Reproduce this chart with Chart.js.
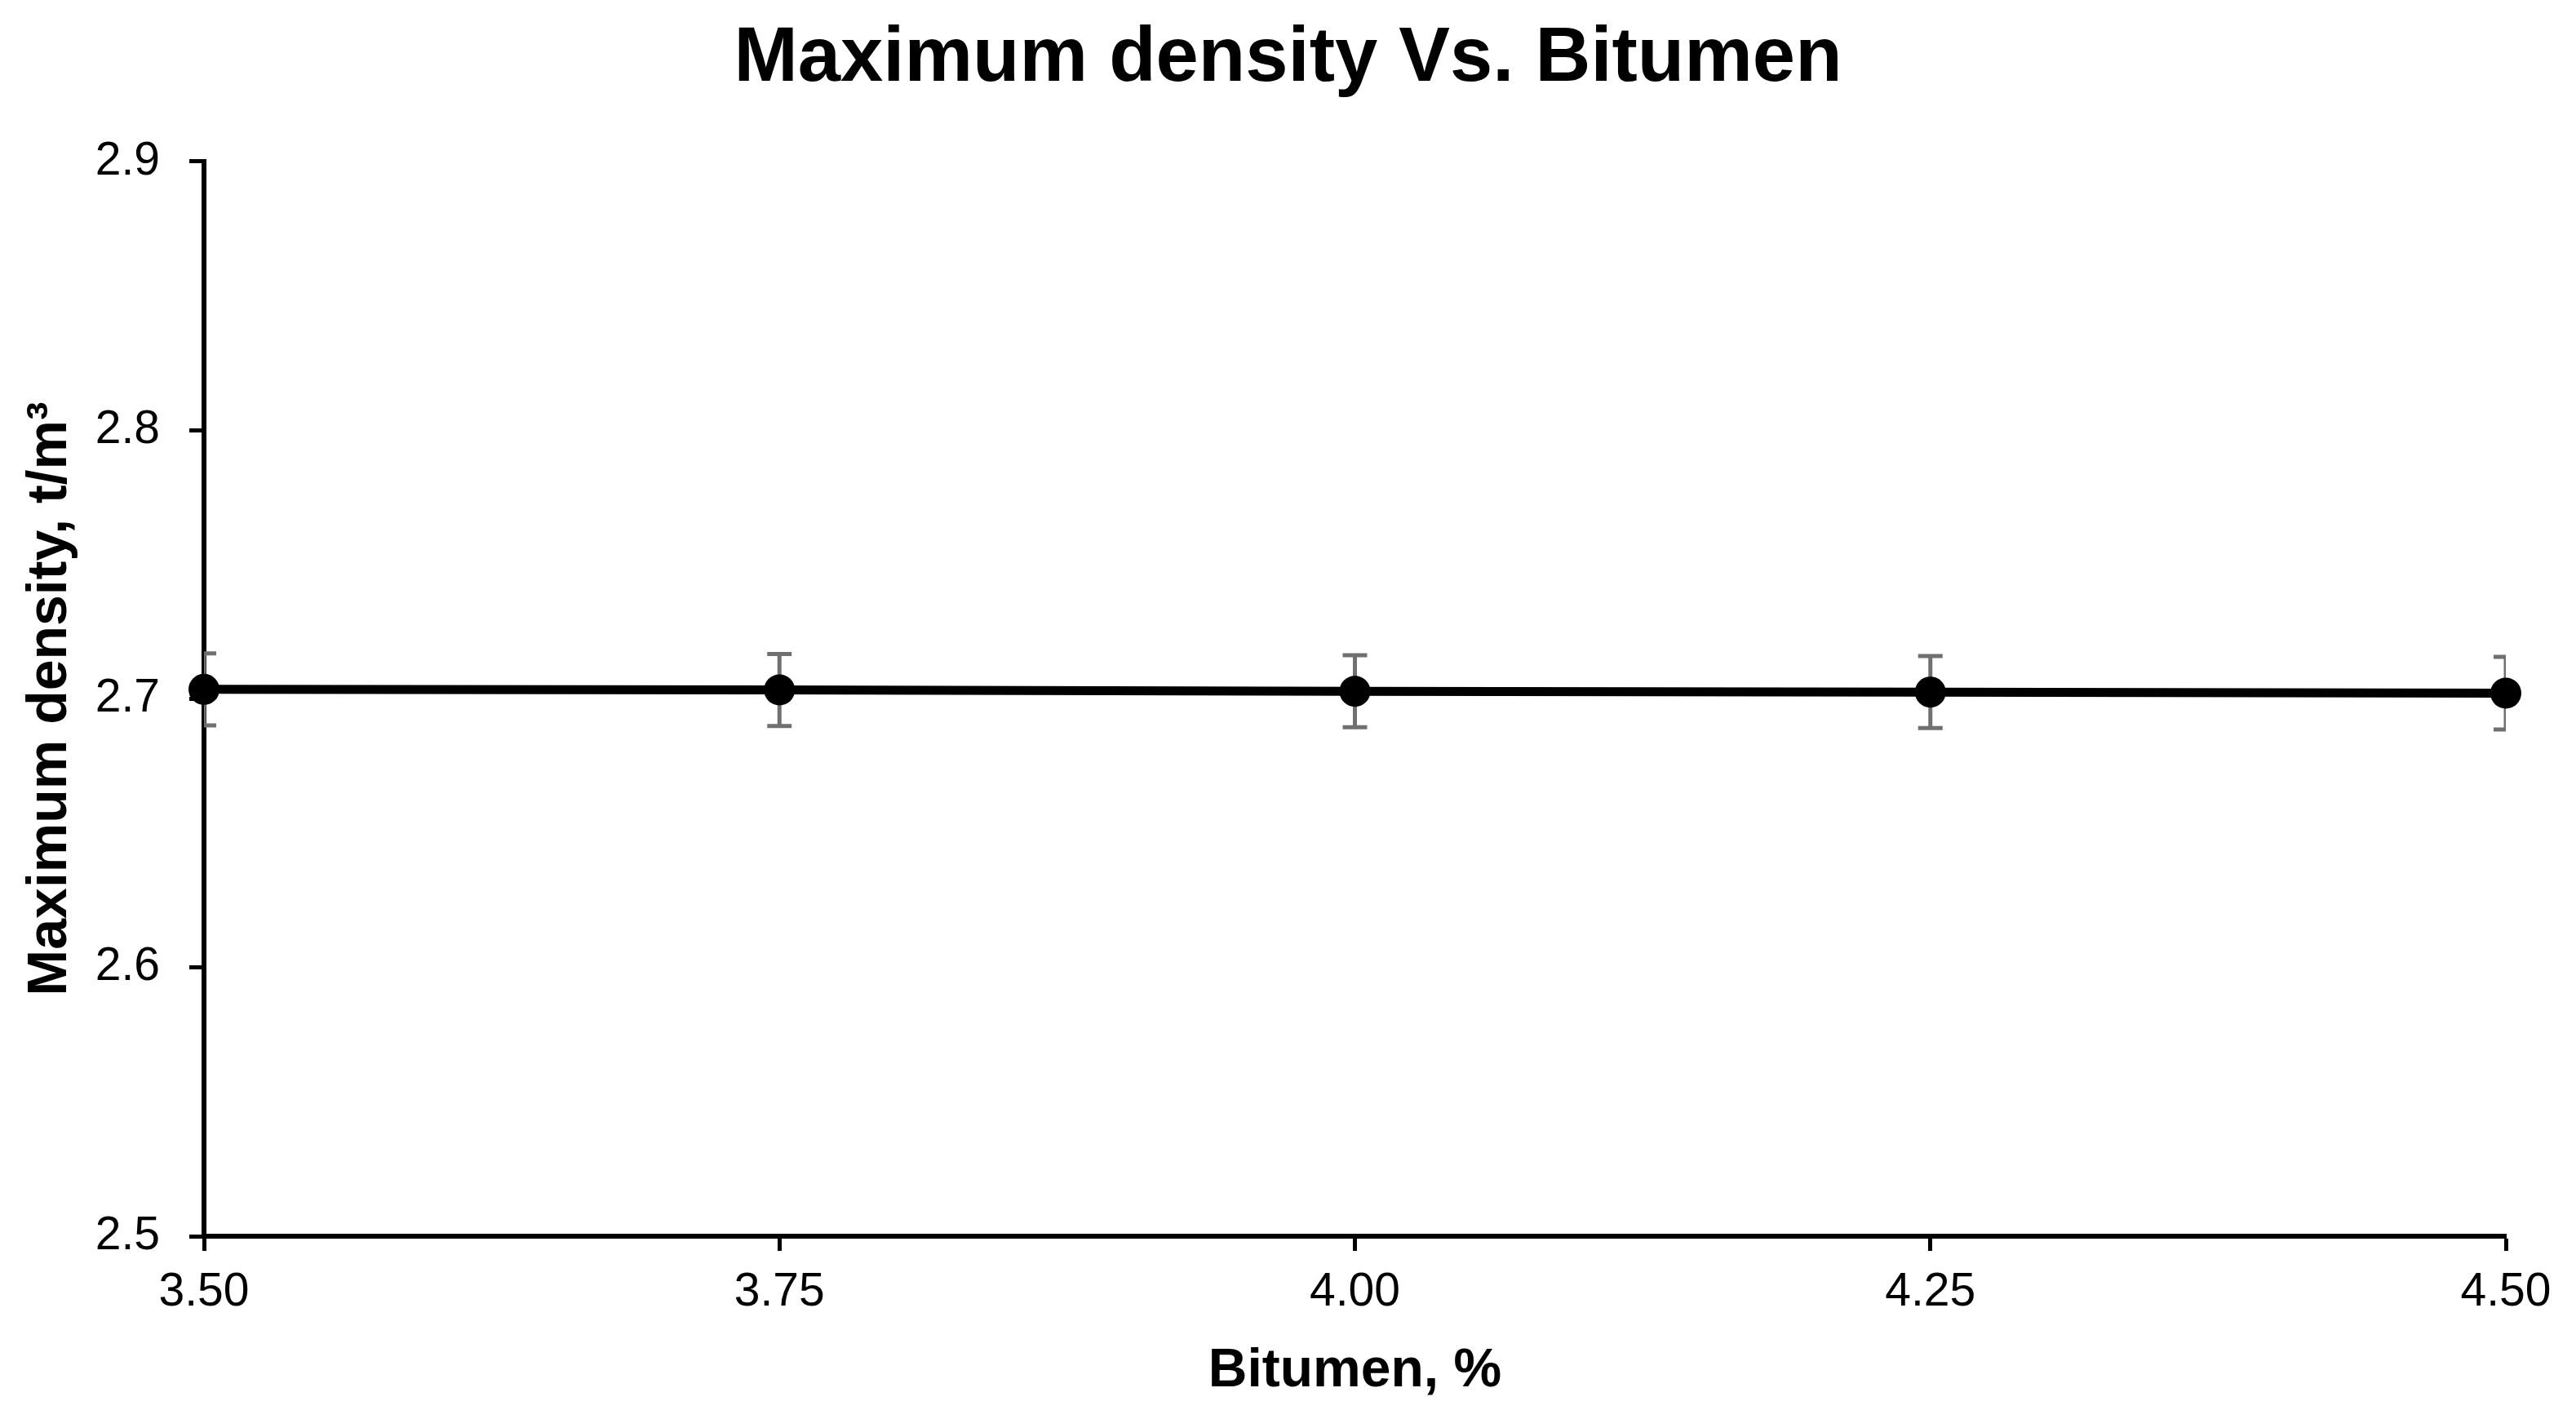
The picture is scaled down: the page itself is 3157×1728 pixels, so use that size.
<!DOCTYPE html>
<html>
<head>
<meta charset="utf-8">
<script src="https://cdn.jsdelivr.net/npm/chart.js@4.4.1/dist/chart.umd.min.js"></script>
<style>
  html, body { margin: 0; padding: 0; background: #fff; }
  #wrap { width: 3157px; height: 1728px; }
</style>
</head>
<body>
<div id="wrap"><canvas id="densityChart" width="3157" height="1728"></canvas></div>
<script>
// Chart values
const bitumen = [3.50, 3.75, 4.00, 4.25, 4.50];          // Bitumen, %
const maxDensity = [2.7035, 2.7033, 2.7028, 2.7025, 2.7021]; // t/m3
const densityError = [0.0134, 0.0134, 0.0134, 0.0134, 0.0135];
const xTicks = [3.50, 3.75, 4.00, 4.25, 4.50];
const yTicks = [2.5, 2.6, 2.7, 2.8, 2.9];

const FONT = '"Liberation Sans", Arial, Helvetica, sans-serif';

// Draws vertical error bars with caps, behind the line and markers
const errorBarPlugin = {
    id: 'errorBars',
    beforeDatasetsDraw(chart) {
        const { ctx, chartArea, scales } = chart;
        ctx.save();
        ctx.beginPath();
        ctx.rect(chartArea.left, chartArea.top, chartArea.right - chartArea.left, chartArea.bottom - chartArea.top);
        ctx.clip();
        ctx.strokeStyle = '#707070';
        ctx.lineWidth = 5;
        const cap = 15;
        bitumen.forEach((b, i) => {
            const px = scales.x.getPixelForValue(b);
            const top = scales.y.getPixelForValue(maxDensity[i] + densityError[i]);
            const bot = scales.y.getPixelForValue(maxDensity[i] - densityError[i]);
            ctx.beginPath();
            ctx.moveTo(px, top); ctx.lineTo(px, bot);
            ctx.moveTo(px - cap, top); ctx.lineTo(px + cap, top);
            ctx.moveTo(px - cap, bot); ctx.lineTo(px + cap, bot);
            ctx.stroke();
        });
        ctx.restore();
    }
};

Chart.defaults.color = '#000';
Chart.defaults.font.family = FONT;

function initializeDensityChart() {
    const canvas = document.getElementById('densityChart');
    if (!canvas) {
        console.warn('Chart canvas is missing!');
        return;
    }
    new Chart(canvas.getContext('2d'), {
        type: 'scatter',
        data: {
            datasets: [{
                label: 'Maximum density',
                data: bitumen.map((b, i) => ({ x: b, y: maxDensity[i] })),
                showLine: true,
                borderColor: '#000',
                borderWidth: 11,
                tension: 0,
                pointRadius: 19,
                pointHoverRadius: 19,
                pointBackgroundColor: '#000',
                pointBorderColor: '#000',
                pointBorderWidth: 0,
                clip: false
            }]
        },
        options: {
            responsive: false,
            animation: false,
            layout: { padding: 0 },
            plugins: {
                legend: { display: false },
                tooltip: { enabled: false },
                title: {
                    display: true,
                    text: 'Maximum density Vs. Bitumen',
                    color: '#000',
                    font: { size: 94, weight: 'bold', family: FONT, lineHeight: 1.2 },
                    padding: { top: 17, bottom: 68 }
                }
            },
            scales: {
                x: {
                    type: 'linear',
                    min: xTicks[0],
                    max: xTicks[xTicks.length - 1],
                    afterBuildTicks: scale => { scale.ticks = xTicks.map(v => ({ value: v })); },
                    afterFit: scale => { scale.height = 213; },
                    border: { display: true, color: '#000', width: 6 },
                    grid: { drawOnChartArea: false, drawTicks: true, tickLength: 18, tickWidth: 5, tickColor: '#000', color: '#000' },
                    ticks: {
                        color: '#000',
                        padding: 17,
                        font: { size: 57, family: FONT },
                        callback: v => Number(v).toFixed(2)
                    },
                    title: {
                        display: true,
                        text: 'Bitumen, %',
                        color: '#000',
                        font: { size: 66, weight: 'bold', family: FONT, lineHeight: 1.2 },
                        padding: { top: 0, bottom: 8 }
                    }
                },
                y: {
                    type: 'linear',
                    min: yTicks[0],
                    max: yTicks[yTicks.length - 1],
                    afterBuildTicks: scale => { scale.ticks = yTicks.map(v => ({ value: v })); },
                    afterFit: scale => { scale.width = 250; },
                    border: { display: true, color: '#000', width: 6 },
                    grid: { drawOnChartArea: false, drawTicks: true, tickLength: 18, tickWidth: 5, tickColor: '#000', color: '#000' },
                    ticks: {
                        color: '#000',
                        padding: 36,
                        font: { size: 57, family: FONT },
                        callback: v => Number(v).toFixed(1)
                    },
                    title: {
                        display: true,
                        text: 'Maximum density, t/m³',
                        color: '#000',
                        font: { size: 68, weight: 'bold', family: FONT, lineHeight: 1.2 },
                        padding: { top: 21, bottom: 0 }
                    }
                },
                // empty right-hand axis that only reserves the white margin
                yRight: {
                    type: 'linear',
                    position: 'right',
                    display: true,
                    min: yTicks[0],
                    max: yTicks[yTicks.length - 1],
                    afterFit: scale => { scale.width = 86; },
                    border: { display: false },
                    grid: { display: false },
                    ticks: { display: false }
                }
            }
        },
        plugins: [errorBarPlugin]
    });
}

initializeDensityChart();
</script>
</body>
</html>
